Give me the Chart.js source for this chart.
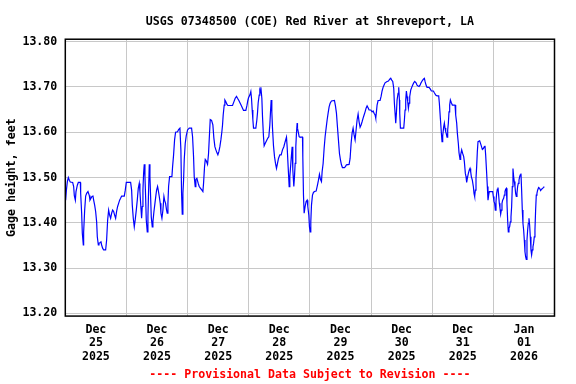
<!DOCTYPE html>
<html>
<head>
<meta charset="utf-8">
<script src="https://cdn.jsdelivr.net/npm/chart.js@4/dist/chart.umd.min.js"></script>
<style>html,body{margin:0;padding:0;background:#fff}canvas{display:block}</style>
</head>
<body>
<canvas id="c" width="576" height="384"></canvas>
<script>
// Hours since 2025-12-25 00:00 (local) and gage height, feet
const hours = [
0.14,0.41,0.80,1.19,1.58,1.97,2.89,3.28,3.54,3.94,4.20,4.72,5.11,5.90,6.03,6.42,6.68,7.07,7.20,7.60,
7.99,8.38,8.90,9.43,9.69,10.08,10.47,10.86,11.13,11.52,11.91,12.30,12.56,12.96,13.22,13.61,14.00,14.26,14.65,15.05,
15.83,16.22,16.62,17.01,17.40,17.79,18.18,18.58,18.97,19.36,19.75,20.14,20.54,20.93,21.32,21.71,22.11,23.15,23.54,23.94,
25.64,26.03,26.29,26.68,27.07,27.47,27.86,28.25,28.64,29.03,29.29,29.69,29.95,30.21,30.47,30.73,30.99,31.26,31.52,31.78,
32.17,32.43,32.69,32.96,33.22,33.48,33.74,34.13,34.39,34.79,35.18,35.57,35.83,36.22,36.48,36.88,37.27,37.53,37.92,38.31,
38.71,38.97,39.36,39.75,40.01,40.28,40.54,40.93,41.84,42.11,42.50,42.89,43.28,44.07,44.46,44.98,
45.37,45.63,45.90,46.16,46.42,46.68,47.07,47.46,47.99,48.64,49.56,49.95,50.34,50.60,50.99,51.25,51.65,52.17,52.56,53.08,
53.61,54.00,54.26,54.65,54.93,55.31,55.83,56.22,56.48,56.88,57.40,57.92,58.31,58.71,59.10,59.49,59.88,60.27,60.67,61.06,
61.45,61.71,61.97,62.37,62.63,63.02,63.41,63.80,65.63,66.16,66.68,67.20,67.59,68.12,68.64,69.16,69.56,69.95,70.86,71.26,
71.65,71.91,72.43,72.82,73.08,73.35,73.61,73.87,74.78,75.18,75.44,75.70,76.09,76.35,76.62,76.75,77.14,77.40,77.79,78.05,
78.44,78.97,79.49,79.88,80.27,80.54,80.80,81.06,81.32,81.71,82.11,82.50,82.89,83.28,83.67,84.20,84.72,85.24,85.77,86.29,
86.81,87.07,87.46,87.86,88.12,88.51,88.77,89.03,89.29,89.69,89.95,90.21,90.47,90.73,91.00,91.13,91.52,91.78,
92.04,93.09,93.22,93.48,93.74,94.13,94.52,94.92,95.18,95.57,95.83,96.09,96.35,96.62,97.01,97.40,97.79,98.45,98.97,99.36,
99.75,100.14,100.54,100.80,101.19,101.58,101.97,102.37,102.76,103.15,103.54,103.94,104.46,105.63,106.03,106.42,106.81,107.20,107.60,107.99,
108.38,108.77,109.56,109.95,110.34,111.39,111.78,112.17,112.56,112.96,113.35,113.74,114.13,114.52,114.92,115.31,115.70,116.09,116.48,116.88,
117.27,117.66,118.05,118.45,118.84,119.23,119.88,120.41,120.80,121.19,121.58,121.84,122.11,122.37,122.76,123.54,123.94,124.33,124.72,125.11,
125.50,126.29,126.82,127.33,127.73,128.12,128.51,128.90,129.16,129.43,129.69,129.95,130.21,130.60,130.86,131.13,131.26,131.52,132.83,133.09,
133.35,133.61,133.87,134.13,134.39,134.66,134.92,135.18,135.57,135.96,136.35,136.75,137.14,137.66,138.05,138.45,138.84,139.23,139.62,140.14,
140.54,140.93,
141.19,141.58,141.98,142.76,143.28,143.68,144.46,144.85,145.37,145.90,146.55,146.81,147.20,147.60,147.86,148.12,148.51,148.77,149.03,149.30,
149.56,149.82,150.08,150.34,150.60,150.86,151.13,151.52,151.91,152.96,153.22,153.61,153.87,154.26,154.52,154.92,155.18,155.57,155.96,156.36,
156.62,157.01,157.27,157.53,157.79,158.19,158.58,158.84,159.10,159.36,159.75,160.15,160.41,160.67,160.93,161.19,161.45,161.71,161.98,162.63,
163.15,163.68,164.07,164.46,164.72,164.98,165.38,165.64,165.90,166.16,166.42,167.73,167.99,168.25,168.51,168.77,169.04,169.30,169.56,169.82,
170.08,170.34,170.60,170.87,171.13,171.39,171.65,172.04,172.30,172.56,172.83,173.09,173.35,173.61,173.87,174.13,174.39,174.66,174.92,175.18,
175.44,175.70,175.96,176.22,176.49,176.75,177.01,177.27,177.53,177.79,178.06,178.32,178.58,178.84,179.10,179.36,179.62,179.89,180.15,180.41,
180.67,180.93,181.20,181.46,181.72,181.98,182.24,182.50,182.76,183.02,183.28,183.54,183.80,184.06,184.33,184.59,184.85,185.11,185.37,185.77,
186.16,186.55,186.94,187.33,187.73,187.99
];
const gageHeight = [
13.450,13.471,13.491,13.500,13.494,13.490,13.489,13.480,13.460,13.450,13.469,13.483,13.489,13.489,13.465,13.421,13.377,13.351,13.379,13.428,
13.459,13.465,13.469,13.460,13.450,13.454,13.458,13.459,13.450,13.439,13.425,13.402,13.369,13.351,13.355,13.356,13.358,13.351,13.344,13.340,
13.340,13.362,13.406,13.428,13.417,13.410,13.421,13.428,13.425,13.417,13.410,13.425,13.436,13.443,13.450,13.454,13.459,13.459,13.472,13.489,
13.489,13.472,13.439,13.410,13.391,13.408,13.428,13.450,13.476,13.487,13.469,13.432,13.410,13.436,13.472,13.509,13.529,13.502,13.458,13.406,
13.380,13.413,13.472,13.529,13.502,13.458,13.413,13.391,13.402,13.425,13.443,13.461,13.472,13.480,13.472,13.458,13.443,13.421,13.410,13.428,
13.458,13.450,13.443,13.428,13.421,13.443,13.480,13.502,13.502,13.524,13.550,13.583,13.600,13.601,13.606,13.609,
13.561,13.465,13.419,13.465,13.494,13.539,13.575,13.592,13.605,13.609,13.609,13.590,13.546,13.502,13.480,13.496,13.498,13.487,13.480,13.476,
13.472,13.469,13.487,13.524,13.540,13.537,13.529,13.553,13.583,13.628,13.626,13.616,13.587,13.568,13.561,13.555,13.550,13.557,13.568,13.583,
13.601,13.616,13.638,13.660,13.671,13.667,13.662,13.659,13.659,13.667,13.675,13.679,13.675,13.670,13.664,13.658,13.653,13.648,13.648,13.658,
13.670,13.676,13.682,13.690,13.675,13.649,13.628,13.609,13.609,13.627,13.643,13.665,13.682,13.692,13.687,13.699,13.675,13.634,13.590,13.570,
13.575,13.581,13.587,13.590,13.616,13.645,13.671,13.645,13.609,13.570,13.546,13.531,13.520,13.531,13.542,13.550,13.550,13.561,13.568,13.579,
13.589,13.568,13.524,13.480,13.502,13.531,13.550,13.568,13.517,13.480,13.502,13.531,13.568,13.598,13.620,13.609,13.598,13.590,
13.589,13.589,13.546,13.461,13.421,13.436,13.447,13.450,13.436,13.417,13.391,13.380,13.402,13.439,13.461,13.467,13.469,13.470,13.483,13.494,
13.507,13.496,13.491,13.513,13.531,13.564,13.590,13.609,13.627,13.642,13.656,13.664,13.669,13.670,13.658,13.642,13.612,13.583,13.553,13.539,
13.528,13.522,13.522,13.524,13.528,13.529,13.542,13.575,13.598,13.609,13.594,13.583,13.605,13.627,13.640,13.623,13.611,13.616,13.623,13.631,
13.638,13.645,13.653,13.658,13.654,13.649,13.649,13.645,13.647,13.642,13.638,13.631,13.645,13.660,13.670,13.670,13.679,13.691,13.699,13.704,
13.709,13.712,13.713,13.717,13.719,13.715,13.712,13.697,13.664,13.642,13.620,13.642,13.671,13.686,13.699,13.671,13.642,13.609,13.609,13.627,
13.649,13.671,13.691,13.679,13.667,13.653,13.664,13.679,13.693,13.699,13.704,13.709,13.712,13.709,13.704,13.702,13.701,13.704,13.709,13.714,
13.717,13.719,
13.712,13.704,13.699,13.699,13.695,13.691,13.691,13.687,13.682,13.680,13.680,13.664,13.631,13.598,13.579,13.592,13.612,13.620,13.609,13.601,
13.596,13.589,13.605,13.620,13.645,13.660,13.671,13.665,13.660,13.660,13.638,13.620,13.598,13.575,13.555,13.540,13.550,13.561,13.553,13.546,
13.535,13.509,13.502,13.489,13.498,13.509,13.517,13.520,13.513,13.502,13.494,13.480,13.465,13.458,13.472,13.498,13.524,13.557,13.579,13.581,
13.572,13.562,13.564,13.568,13.570,13.550,13.509,13.480,13.450,13.461,13.469,13.469,13.458,13.447,13.443,13.428,13.447,13.465,13.474,13.478,
13.461,13.443,13.432,13.419,13.428,13.443,13.450,13.454,13.461,13.469,13.474,13.476,13.443,13.406,13.380,13.388,13.391,13.402,13.413,13.436,
13.480,13.520,13.502,13.491,13.480,13.465,13.458,13.465,13.480,13.487,13.494,13.502,13.506,13.509,13.472,13.428,13.399,13.384,13.362,13.336,
13.325,13.319,13.362,13.384,13.399,13.410,13.395,13.369,13.340,13.329,13.340,13.347,13.355,13.369,13.384,13.428,13.461,13.465,13.472,13.478,
13.476,13.471,13.474,13.476,13.478,13.480
];
const dayMonths  = ['Dec','Dec','Dec','Dec','Dec','Dec','Dec','Jan'];
const dayNumbers = ['25','26','27','28','29','30','31','01'];
const dayYears   = ['2025','2025','2025','2025','2025','2025','2025','2026'];
const yTickValues = [13.20,13.30,13.40,13.50,13.60,13.70,13.80];
const titleText  = 'USGS 07348500 (COE) Red River at Shreveport, LA';
const footerText = '---- Provisional Data Subject to Revision ----';
const yAxisTitle = 'Gage height, feet';

const FONT = "'DejaVu Sans Mono', 'Liberation Mono', monospace";
const points = hours.map((h, i) => ({x: h, y: gageHeight[i]}));

const framePlugin = {
  id: 'frame',
  afterDraw(chart) {
    const {ctx, chartArea: a} = chart;
    ctx.save();
    ctx.strokeStyle = '#000';
    ctx.lineWidth = 1.5;
    ctx.strokeRect(a.left, a.top, a.right - a.left, a.bottom - a.top);
    ctx.restore();
  }
};

new Chart(document.getElementById('c'), {
  type: 'line',
  data: {
    datasets: [{
      data: points,
      borderColor: '#0000ff',
      borderWidth: 1.2,
      pointRadius: 0,
      tension: 0,
      fill: false
    }]
  },
  options: {
    responsive: false,
    animation: false,
    devicePixelRatio: 1,
    layout: { padding: { left: 0, right: 21.5, top: 0, bottom: 0 } },
    plugins: {
      legend: { display: false },
      tooltip: { enabled: false },
      title: {
        display: true, text: titleText, color: '#000', fullSize: false,
        font: { family: FONT, size: 11.6, weight: 'bold', lineHeight: 1.2 },
        padding: { top: 15, bottom: 10.3 }
      },
      subtitle: {
        display: true, text: footerText, color: '#ff0000', position: 'bottom', fullSize: false,
        font: { family: FONT, size: 11.6, weight: 'bold', lineHeight: 1.2 },
        padding: { top: 0, bottom: 2 }
      }
    },
    scales: {
      x: {
        type: 'linear', min: 0, max: 192,
        afterBuildTicks(scale) {
          const t = [];
          for (let v = 0; v <= 192; v += 12) t.push({ value: v });
          scale.ticks = t;
        },
        afterFit(scale) { scale.height = 52; },
        border: { display: false },
        grid: {
          drawTicks: false,
          lineWidth: 1,
          color: (ctx) => (ctx.tick && ctx.tick.value % 24 === 0) ? '#c8c8c8' : 'rgba(0,0,0,0)'
        },
        ticks: {
          autoSkip: false, maxRotation: 0, minRotation: 0, padding: 7,
          color: '#000',
          font: { family: FONT, size: 11.6, weight: 'bold', lineHeight: 1.16 },
          callback: (v) => {
            if (v % 24 !== 12) return '';
            const i = (v - 12) / 24;
            return [dayMonths[i], dayNumbers[i], dayYears[i]];
          }
        }
      },
      y: {
        type: 'linear', min: 13.194, max: 13.8053,
        afterBuildTicks(scale) { scale.ticks = yTickValues.map(v => ({ value: v })); },
        afterFit(scale) { scale.width = 65.3; },
        border: { display: false },
        grid: { drawTicks: false, lineWidth: 1, color: '#c8c8c8' },
        ticks: {
          padding: 8, color: '#000',
          font: { family: FONT, size: 11.6, weight: 'bold' },
          callback: (v) => Number(v).toFixed(2)
        },
        title: {
          display: true, text: yAxisTitle, color: '#000',
          font: { family: FONT, size: 11.6, weight: 'bold', lineHeight: 1.2 },
          padding: { top: 5, bottom: 0 }
        }
      }
    }
  },
  plugins: [framePlugin]
});
</script>
</body>
</html>
